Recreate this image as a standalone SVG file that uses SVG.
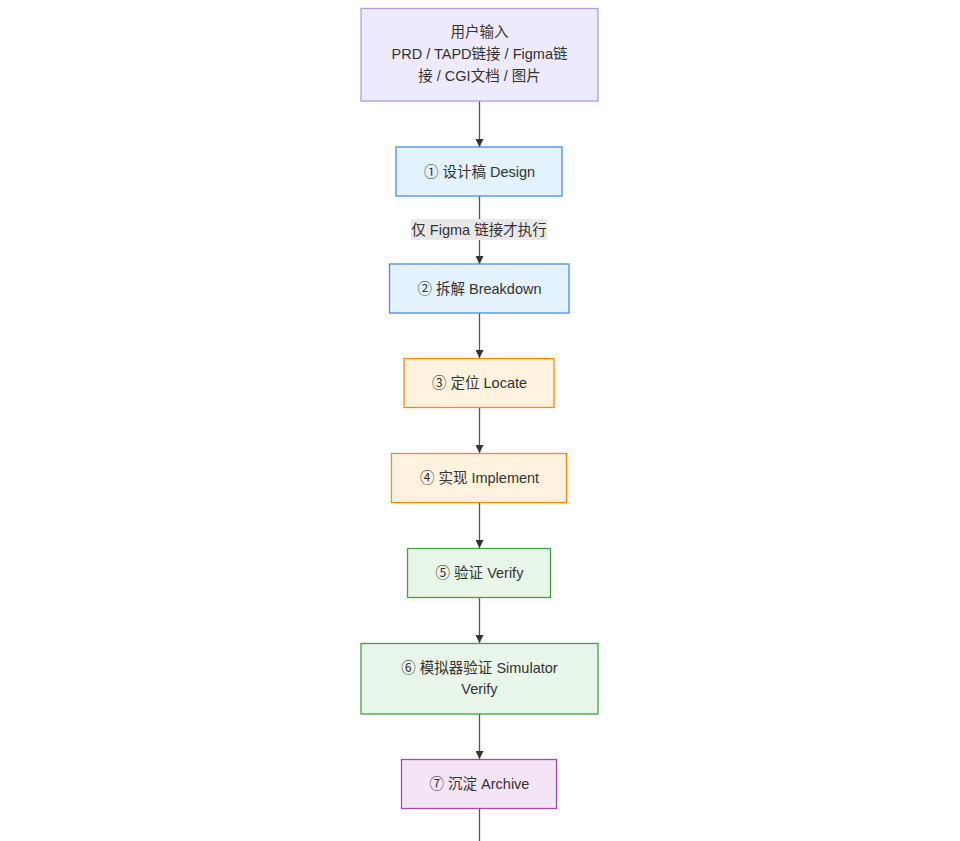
<svg xmlns="http://www.w3.org/2000/svg" width="960" height="841" viewBox="0 0 960 841">
<style>
  text { font-family: "Liberation Sans", "Noto Sans CJK SC", sans-serif; font-size: 14.5px; fill: #333333; text-anchor: middle; dominant-baseline: central; }
  .edge { stroke: #555555; stroke-width: 1.3; fill: none; }
  .n0 { fill: #eeeafd; stroke: #b39ddb; stroke-width: 1.3; }
  .blue { fill: #e3f2fd; stroke: #4a90e2; stroke-width: 1.3; }
  .orange { fill: #fff3e0; stroke: #fb8c00; stroke-width: 1.3; }
  .green { fill: #e8f5e9; stroke: #43a047; stroke-width: 1.3; }
  .purple { fill: #f3e5f5; stroke: #ab47bc; stroke-width: 1.3; }
</style>
<defs>
  <marker id="arrow" viewBox="0 0 10 10" refX="10" refY="5" markerWidth="8" markerHeight="8" markerUnits="userSpaceOnUse" orient="auto">
    <path d="M0,0 L10,5 L0,10 z" fill="#333333"/>
  </marker>
</defs>
<rect width="960" height="841" fill="#ffffff"/>
<g id="connectors">
  <line class="edge" x1="479.5" y1="101" x2="479.5" y2="147" marker-end="url(#arrow)"/>
  <line class="edge" x1="479.5" y1="196" x2="479.5" y2="264" marker-end="url(#arrow)"/>
  <line class="edge" x1="479.5" y1="313" x2="479.5" y2="358" marker-end="url(#arrow)"/>
  <line class="edge" x1="479.5" y1="407" x2="479.5" y2="453" marker-end="url(#arrow)"/>
  <line class="edge" x1="479.5" y1="502" x2="479.5" y2="548" marker-end="url(#arrow)"/>
  <line class="edge" x1="479.5" y1="597" x2="479.5" y2="643" marker-end="url(#arrow)"/>
  <line class="edge" x1="479.5" y1="714" x2="479.5" y2="759" marker-end="url(#arrow)"/>
  <line class="edge" x1="479.5" y1="808" x2="479.5" y2="841"/>
  <g id="edge-label">
    <rect x="411" y="219" width="136" height="21" fill="#e8e8e8"/>
    <text x="479" y="229.5">仅 Figma 链接才执行</text>
  </g>
</g>
<g id="input">
  <rect class="n0" x="361" y="8.5" width="237" height="92.5"/>
  <text x="479.5" y="32">用户输入</text>
  <text x="479.5" y="54">PRD / TAPD链接 / Figma链</text>
  <text x="479.5" y="75.5">接 / CGI文档 / 图片</text>
</g>
<g id="design">
  <rect class="blue" x="396" y="147" width="166" height="49"/>
  <text x="479.5" y="171.5">① 设计稿 Design</text>
</g>
<g id="breakdown">
  <rect class="blue" x="389.5" y="264" width="179.5" height="49"/>
  <text x="479.5" y="288.5">② 拆解 Breakdown</text>
</g>
<g id="locate">
  <rect class="orange" x="404" y="358.5" width="150" height="49"/>
  <text x="479.5" y="383">③ 定位 Locate</text>
</g>
<g id="implement">
  <rect class="orange" x="391.5" y="453.5" width="175" height="49"/>
  <text x="479.5" y="478">④ 实现 Implement</text>
</g>
<g id="verify">
  <rect class="green" x="407.5" y="548.5" width="143" height="49"/>
  <text x="479.5" y="573">⑤ 验证 Verify</text>
</g>
<g id="simulator">
  <rect class="green" x="361" y="643.5" width="237" height="70.5"/>
  <text x="479.5" y="667.5">⑥ 模拟器验证 Simulator</text>
  <text x="479.5" y="689">Verify</text>
</g>
<g id="archive">
  <rect class="purple" x="401.5" y="759.5" width="155" height="49"/>
  <text x="479.5" y="784">⑦ 沉淀 Archive</text>
</g>
</svg>
